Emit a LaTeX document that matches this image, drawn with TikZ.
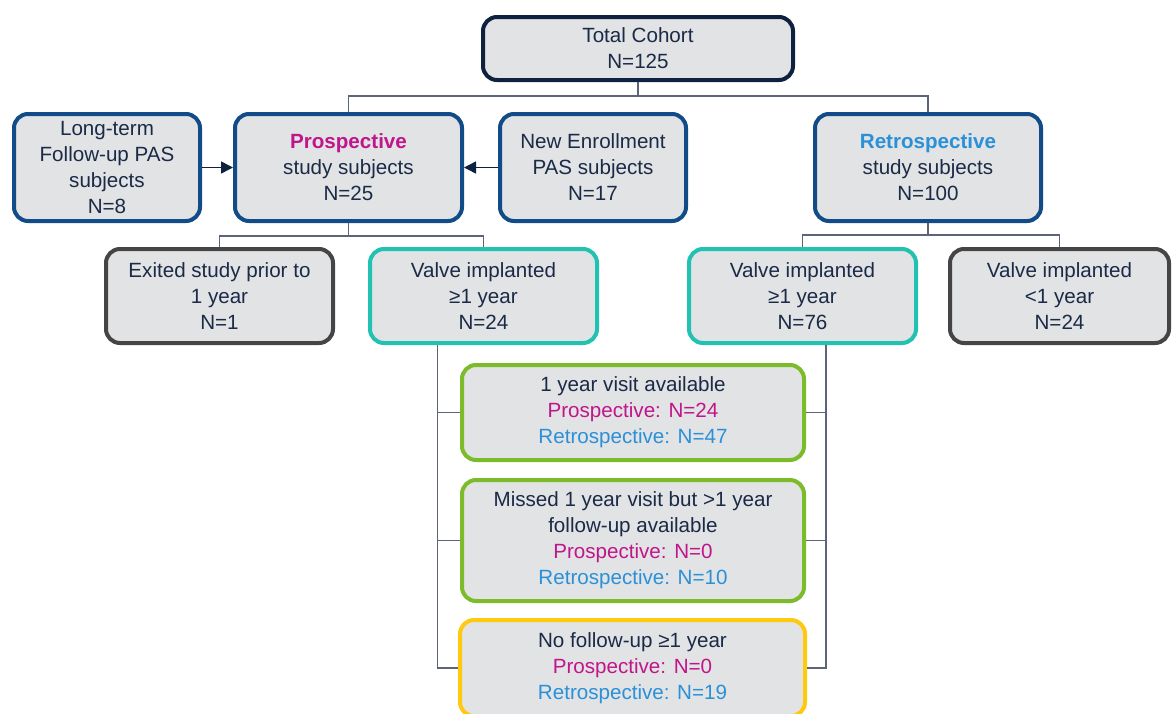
\documentclass[tikz,border=0pt]{standalone}
\usepackage{fontspec}
\setmainfont{Liberation Sans}
\usepackage{tikz}
\usetikzlibrary{arrows.meta,positioning,calc}
\definecolor{BoxGray}{HTML}{E2E3E4}
\definecolor{InkNavy}{HTML}{1B2A47}
\definecolor{CohortNavy}{HTML}{0E2240}
\definecolor{GroupBlue}{HTML}{124C88}
\definecolor{ImplTeal}{HTML}{22C2B3}
\definecolor{ExitGray}{HTML}{454545}
\definecolor{AvailGreen}{HTML}{7CBB2A}
\definecolor{NoneYellow}{HTML}{FFC910}
\definecolor{ProsMagenta}{HTML}{C0158B}
\definecolor{RetroBlue}{HTML}{2A90D8}
\definecolor{LinkGray}{HTML}{5B6577}

\begin{document}
\begin{tikzpicture}[
x=0.5pt,y=-0.5pt,
box/.style={rounded corners=7pt,line width=2pt,fill=BoxGray,align=center,text=InkNavy,inner sep=0pt,font=\fontsize{10.3}{13}\selectfont},
cohortbox/.style={box,draw=CohortNavy},
groupbox/.style={box,draw=GroupBlue},
implbox/.style={box,draw=ImplTeal},
exitbox/.style={box,draw=ExitGray},
fubox/.style={box,draw=AvailGreen},
nonebox/.style={box,draw=NoneYellow},
link/.style={draw=LinkGray,line width=0.75pt},
feed/.style={-{Triangle[length=6pt,width=6pt]},line width=0.75pt,draw=CohortNavy}
]
\useasboundingbox (0,0) rectangle (1173,713);
\clip (0,0) rectangle (1173,713);

% Level 0: whole cohort
\node[cohortbox,minimum width=155pt,minimum height=31.5pt] (total) at (638,48.5) {Total Cohort\\N=125};

% Level 1: study arms and sources
\node[groupbox,minimum width=93pt,minimum height=53.5pt] (longterm) at (107,167.5) {Long-term\\Follow-up PAS\\subjects\\N=8};
\node[groupbox,minimum width=113.5pt,minimum height=53.5pt] (pros) at (348.5,167.5) {\textbf{\textcolor{ProsMagenta}{Prospective}}\\study subjects\\N=25};
\node[groupbox,minimum width=93pt,minimum height=53.5pt] (newenr) at (593,167.5) {New Enrollment\\PAS subjects\\N=17};
\node[groupbox,minimum width=113pt,minimum height=53.5pt] (retro) at (928,167.5) {\textbf{\textcolor{RetroBlue}{Retrospective}}\\study subjects\\N=100};

% Level 2: implant status
\node[exitbox,minimum width=113.5pt,minimum height=47pt] (exited) at (219.5,296) {Exited study prior to\\1 year\\N=1};
\node[implbox,minimum width=113.5pt,minimum height=47pt] (valvepros) at (483.5,296) {Valve implanted\\≥1 year\\N=24};
\node[implbox,minimum width=113.5pt,minimum height=47pt] (valveretro) at (802.5,296) {Valve implanted\\≥1 year\\N=76};
\node[exitbox,minimum width=109.5pt,minimum height=47pt] (valveless) at (1059.5,296) {Valve implanted\\<1 year\\N=24};

% Level 3: follow-up availability
\node[fubox,minimum width=171pt,minimum height=47.5pt] (visit) at (633,412.5) {1 year visit available\\\textcolor{ProsMagenta}{Prospective: N=24}\\\textcolor{RetroBlue}{Retrospective: N=47}};
\node[fubox,minimum width=171pt,minimum height=60.5pt] (missed) at (633,540.5) {Missed 1 year visit but >1 year\\follow-up available\\\textcolor{ProsMagenta}{Prospective: N=0}\\\textcolor{RetroBlue}{Retrospective: N=10}};
\node[nonebox,minimum width=172.5pt,minimum height=48pt] (nofu) at (632.5,668) {No follow-up ≥1 year\\\textcolor{ProsMagenta}{Prospective: N=0}\\\textcolor{RetroBlue}{Retrospective: N=19}};

% connectors
\draw[link] (total.south) -- ++(0,14) -| (pros.north);
\draw[link] (total.south) -- ++(0,14) -| (retro.north);
\draw[feed] (longterm.east) -- (pros.west);
\draw[feed] (newenr.west) -- (pros.east);
\draw[link] (pros.south) -- ++(0,13) -| (exited.north);
\draw[link] (pros.south) -- ++(0,13) -| (valvepros.north);
\draw[link] (retro.south) -- ++(0,12) -| (valveretro.north);
\draw[link] (retro.south) -- ++(0,12) -| (valveless.north);
\draw[link] (valvepros.south) ++(-46,0) |- (visit.west);
\draw[link] (valvepros.south) ++(-46,0) |- (missed.west);
\draw[link] (valvepros.south) ++(-46,0) |- (nofu.west);
\draw[link] (valveretro.south) ++(23.5,0) |- (visit.east);
\draw[link] (valveretro.south) ++(23.5,0) |- (missed.east);
\draw[link] (valveretro.south) ++(23.5,0) |- (nofu.east);
\end{tikzpicture}
\end{document}
